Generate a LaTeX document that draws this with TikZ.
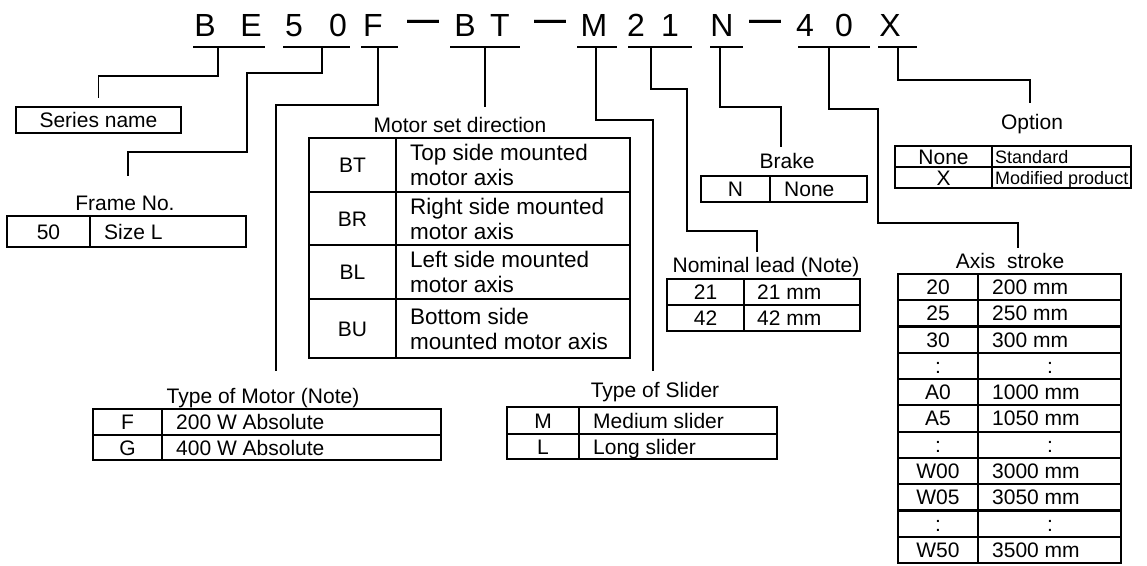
\documentclass[tikz,border=0pt]{standalone}
\usepackage{fontspec}
\setmainfont{Liberation Sans}
\usetikzlibrary{calc}

\tikzset{
    code/.style={font=\fontsize{32}{32}\selectfont, anchor=base, inner sep=0pt},
    ttl/.style={font=\fontsize{21}{25}\selectfont, anchor=base, inner sep=0pt},
    cell/.style={font=\fontsize{21}{25}\selectfont, anchor=base, inner sep=0pt},
    lcell/.style={cell, anchor=base west},
    small/.style={font=\fontsize{18}{20}\selectfont, anchor=base west, inner sep=0pt},
    tbl/.style={line width=2.2pt},
    link/.style={line width=1.8pt},
}

\begin{document}
\begin{tikzpicture}[x=1pt,y=-1pt]
    \useasboundingbox (0,0) rectangle (1147,565);

    % model code
    \foreach \ch/\cx [count=\i] in {B/205,E/251,5/294,0/338,F/373,B/465,T/500,M/594,2/636,1/670,N/722,4/805,0/844,X/890}
        \node[code] (c\i) at (\cx,36) {\ch};
    \foreach \cx [count=\i] in {423,550,765}
        \node[code] (d\i) at (\cx,30.5) {\textbf{—}};

    \foreach \a/\b/\t/\n in {193/265/218/BE,283/350/322/Fr,361/398/378/Mo,450/520/485/Dir,577/617/596/Sl,628/692/651/Ld,710/743/720/Br,798/870/829/St,878/917/898/Op}{
        \draw[link] (\a,47) -- (\b,47);
        \coordinate (tap\n) at (\t,47);
    }

    % series name
    \node[draw, tbl, cell, anchor=center, minimum width=165pt, minimum height=26pt] (series) at (98.5,120) {Series name};

    % frame no.
    \node[ttl] (frame) at (125,210) {Frame No.};
    \draw[tbl] (7,216) rectangle (246,247) (90,216) -- (90,247);
    \node[cell] (fr50) at (48.5,239) {50};
    \node[lcell] (frL) at (104,239) {Size L};

    % motor set direction
    \node[ttl] (dir) at (460,132) {Motor set direction};
    \draw[tbl] (309,138) rectangle (630,358) (396,138) -- (396,358);
    \foreach \y in {192,245,299}
        \draw[tbl] (309,\y) -- (630,\y);
    \foreach \c/\d/\y in {BT/{Top side mounted\\motor axis}/165,BR/{Right side mounted\\motor axis}/218.5,BL/{Left side mounted\\motor axis}/272,BU/{Bottom side\\mounted motor axis}/328.5}{
        \node[cell] (dir\c) at (352.5,\y+7.5) {\c};
        \node[cell, font=\fontsize{22.5}{25}\selectfont, anchor=west, align=left] (dir\c t) at (410,\y) {\d};
    }

    % type of motor
    \node[ttl] (motor) at (263,403) {Type of Motor (Note)};
    \draw[tbl] (93,409) rectangle (441,460) (93,435) -- (441,435) (162,409) -- (162,460);
    \node[cell] (moF) at (127.5,429.5) {F};
    \node[lcell] (moFt) at (176,429.5) {200 W Absolute};
    \node[cell] (moG) at (127.5,455) {G};
    \node[lcell] (moGt) at (176,455) {400 W Absolute};

    % type of slider
    \node[ttl] (slider) at (655,397) {Type of Slider};
    \draw[tbl] (507,407) rectangle (777,459) (507,434) -- (777,434) (579,407) -- (579,459);
    \node[cell] (slM) at (543,428) {M};
    \node[lcell] (slMt) at (593,428) {Medium slider};
    \node[cell] (slL) at (543,454) {L};
    \node[lcell] (slLt) at (593,454) {Long slider};

    % nominal lead
    \node[ttl] (lead) at (766,272) {Nominal lead (Note)};
    \draw[tbl] (667,279) rectangle (860,331) (667,305) -- (860,305) (744,279) -- (744,331);
    \node[cell] (ld21) at (705.5,299.5) {21};
    \node[lcell] (ld21t) at (757,299.5) {21 mm};
    \node[cell] (ld42) at (705.5,325.5) {42};
    \node[lcell] (ld42t) at (757,325.5) {42 mm};

    % brake
    \node[ttl] (brake) at (787,168) {Brake};
    \draw[tbl] (701,176) rectangle (867,202) (770,176) -- (770,202);
    \node[cell] (brN) at (735.5,196.5) {N};
    \node[lcell] (brNt) at (784,196.5) {None};

    % axis stroke
    \node[ttl] (stroke) at (1010,268) {Axis\ \ stroke};
    \draw[tbl] (898,274) rectangle (1121,563) (978,274) -- (978,563);
    \foreach \i in {1,...,10}
        \draw[tbl] (898,274+\i*26.27) -- (1121,274+\i*26.27);
    \foreach \c/\d [count=\i] in {20/200 mm,25/250 mm,30/300 mm,:/,A0/1000 mm,A5/1050 mm,:/,W00/3000 mm,W05/3050 mm,:/,W50/3500 mm}{
        \node[cell] (sa\i) at (938,274+\i*26.27-13.13+7.5) {\c};
        \node[lcell] (sb\i) at (992,274+\i*26.27-13.13+7.5) {\d};
    }
    \foreach \i in {4,7,10}
        \node[cell] (sc\i) at (1050,274+\i*26.27-13.13+7.5) {:};

    % option
    \node[ttl] (option) at (1032,129) {Option};
    \draw[tbl] (895,146) rectangle (1131,188) (895,167) -- (1131,167) (992,146) -- (992,188);
    \node[cell] (opN) at (943.5,164) {None};
    \node[small] (opNt) at (995,163) {Standard};
    \node[cell] (opX) at (943.5,185) {X};
    \node[small] (opXt) at (995,184) {Modified product};

    % connectors
    \draw[link] (tapBE) |- ([yshift=30pt]series.north) -- ([yshift=8pt]series.north);
    \draw[link] (tapFr) |- (247,73) |- (128,152) -- ([xshift=3pt,yshift=19pt]frame.north);
    \draw[link] (tapMo) |- (276,105) -- ([xshift=13pt,yshift=17pt]motor.north);
    \draw[link] (tapDir) -- ([xshift=25pt,yshift=10pt]dir.north);
    \draw[link] (tapSl) |- (653,120) -- ([xshift=-2pt,yshift=11pt]slider.north);
    \draw[link] (tapLd) |- (687,89) |- (757,231) -- ([xshift=-9pt,yshift=5pt]lead.north);
    \draw[link] (tapBr) |- (781,107) -- ([xshift=-6pt,yshift=6pt]brake.north);
    \draw[link] (tapSt) |- (878,109) |- (1018,223) -- ([xshift=8pt,yshift=5pt]stroke.north);
    \draw[link] (tapOp) |- (1030,80) -- ([xshift=-2pt,yshift=11pt]option.north);
\end{tikzpicture}
\end{document}
